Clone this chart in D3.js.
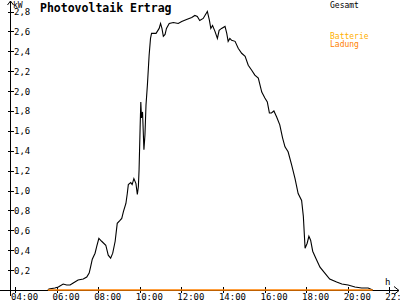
<!DOCTYPE html>
<html>
<head>
<meta charset="utf-8">
<script src="https://cdn.jsdelivr.net/npm/d3@7"></script>
<style>
  html, body { margin: 0; padding: 0; background: #fff; }
  svg { display: block; }
  text { font-family: "DejaVu Sans Mono", monospace; }
</style>
</head>
<body>
<svg id="chart" width="400" height="300"></svg>
<script>
// Gesamt (kW)
const gesamtTimes = [
  "05:35","05:38","05:55","06:05","06:19","06:29","06:39","06:48","07:02","07:17",
  "07:27","07:34","07:38","07:43","07:51","07:56","08:02","08:10","08:22","08:29",
  "08:36","08:42","08:49","08:55","09:03","09:08","09:13","09:20","09:24","09:27",
  "09:34","09:38","09:43","09:49","09:53","09:56","09:58","10:01","10:03","10:05",
  "10:08","10:12","10:15","10:18","10:22","10:27","10:31","10:34","10:47","10:56",
  "11:00","11:04","11:08","11:13","11:17","11:25","11:37","11:51","12:01","12:15",
  "12:30","12:39","12:46","12:53","13:03","13:15","13:21","13:25","13:30","13:37",
  "13:44","13:49","13:56","14:06","14:11","14:15","14:20","14:25","14:35","14:44",
  "14:54","15:04","15:13","15:23","15:32","15:42","15:52","16:01","16:08","16:14",
  "16:20","16:27","16:35","16:44","16:52","16:59","17:08","17:18","17:28","17:37",
  "17:47","17:52","17:57","18:03","18:08","18:13","18:19","18:28","18:40","18:54",
  "19:08","19:28","19:43","20:01","20:21","20:40","20:59","21:12"
];
const gesamtValues = [
  0.00, 0.01, 0.02, 0.03, 0.06, 0.05, 0.05, 0.07, 0.10, 0.11,
  0.13, 0.17, 0.23, 0.31, 0.37, 0.44, 0.52, 0.49, 0.45, 0.35,
  0.32, 0.37, 0.49, 0.67, 0.70, 0.72, 0.79, 0.87, 0.97, 1.06,
  1.08, 1.06, 1.12, 1.07, 0.96, 1.04, 1.21, 1.63, 1.89, 1.73,
  1.79, 1.41, 1.56, 1.86, 2.06, 2.36, 2.53, 2.58, 2.58, 2.63,
  2.68, 2.63, 2.55, 2.57, 2.63, 2.68, 2.69, 2.68, 2.70, 2.72,
  2.74, 2.76, 2.75, 2.71, 2.73, 2.80, 2.71, 2.63, 2.66, 2.60,
  2.53, 2.61, 2.63, 2.65, 2.58, 2.50, 2.53, 2.51, 2.50, 2.43,
  2.38, 2.35, 2.26, 2.21, 2.16, 2.13, 1.99, 1.93, 1.89, 1.78,
  1.78, 1.80, 1.74, 1.66, 1.53, 1.44, 1.39, 1.26, 1.12, 0.97,
  0.90, 0.74, 0.42, 0.47, 0.54, 0.50, 0.39, 0.32, 0.23, 0.17,
  0.11, 0.08, 0.06, 0.05, 0.03, 0.02, 0.02, 0.00
];

// Batterie Ladung (kW)
const ladungTimes = ["05:35", "21:12"];
const ladungValues = [0, 0];

const xTickHours = [4, 6, 8, 10, 12, 14, 16, 18, 20, 22];
const yTickValues = [0.2, 0.4, 0.6, 0.8, 1.0, 1.2, 1.4, 1.6, 1.8, 2.0, 2.2, 2.4, 2.6, 2.8];

const title = "Photovoltaik Ertrag";
const legendItems = [
  { label: "Gesamt", color: "#000000", y: 8 },
  { label: "Batterie", color: "#ffb000", y: 39 },
  { label: "Ladung", color: "#ff8000", y: 47 }
];

const toHours = t => { const [h, m] = t.split(":").map(Number); return h + m / 60; };
const fTime = h => String(h).padStart(2, "0") + ":00";
const fKw = v => v.toFixed(1).replace(".", ",");

const svg = d3.select("#chart");

const x = d3.scaleLinear().domain([4, 22]).range([15, 389.3]);
const y = d3.scaleLinear().domain([0, 2.8]).range([290, 11.5]);

const AXIS_X = 10.5;
const BASE_Y = y(0) + 0.5;

// axes
const axes = svg.append("g")
  .attr("stroke", "#000")
  .attr("stroke-width", 1)
  .attr("shape-rendering", "crispEdges");

axes.append("line")
  .attr("x1", 0).attr("x2", 399)
  .attr("y1", BASE_Y).attr("y2", BASE_Y);

axes.append("line")
  .attr("x1", AXIS_X).attr("x2", AXIS_X)
  .attr("y1", 296).attr("y2", 1);

// arrow heads
svg.append("path")
  .attr("d", `M394,${BASE_Y - 4} L399,${BASE_Y} L394,${BASE_Y + 4}`)
  .attr("fill", "none").attr("stroke", "#000");
svg.append("path")
  .attr("d", `M${AXIS_X - 3},5 L${AXIS_X},1 L${AXIS_X + 3},5`)
  .attr("fill", "none").attr("stroke", "#000");

// x ticks
axes.selectAll(".xt")
  .data(xTickHours)
  .join("line")
  .attr("x1", d => Math.round(x(d)) + 0.5)
  .attr("x2", d => Math.round(x(d)) + 0.5)
  .attr("y1", 287).attr("y2", 293);

svg.selectAll(".xl")
  .data(xTickHours)
  .join("text")
  .attr("x", d => x(d) - 4)
  .attr("y", 299.5)
  .attr("font-size", 9)
  .attr("fill", "#000")
  .text(fTime);

// y ticks
axes.selectAll(".yt")
  .data(yTickValues)
  .join("line")
  .attr("x1", 8).attr("x2", 14)
  .attr("y1", d => Math.round(y(d)) + 0.5)
  .attr("y2", d => Math.round(y(d)) + 0.5);

svg.selectAll(".yl")
  .data(yTickValues)
  .join("text")
  .attr("x", 14)
  .attr("y", d => y(d) + 3.5)
  .attr("font-size", 9)
  .attr("fill", "#000")
  .text(fKw);

svg.append("text")
  .attr("x", 13).attr("y", 7.5)
  .attr("font-size", 8)
  .text("kW");

svg.append("text")
  .attr("x", 385).attr("y", 285)
  .attr("font-size", 9)
  .text("h");

// title
svg.append("text")
  .attr("x", 40).attr("y", 11.5)
  .attr("font-size", 11.5)
  .attr("font-weight", "bold")
  .text(title);

// legend
svg.selectAll(".leg")
  .data(legendItems)
  .join("text")
  .attr("x", 330)
  .attr("y", d => d.y)
  .attr("font-size", 8)
  .attr("fill", d => d.color)
  .text(d => d.label);

// series
const line = d3.line()
  .x(d => x(d.t))
  .y(d => y(d.v));

const gesamt = gesamtTimes.map((t, i) => ({ t: toHours(t), v: gesamtValues[i] }));
const ladung = ladungTimes.map((t, i) => ({ t: toHours(t), v: ladungValues[i] }));

svg.append("path")
  .datum(gesamt)
  .attr("d", line)
  .attr("fill", "none")
  .attr("stroke", "#000")
  .attr("stroke-width", 1.1);

svg.append("path")
  .datum(ladung)
  .attr("d", line)
  .attr("fill", "none")
  .attr("stroke", "#ff8000")
  .attr("stroke-width", 1.5);
</script>
</body>
</html>
